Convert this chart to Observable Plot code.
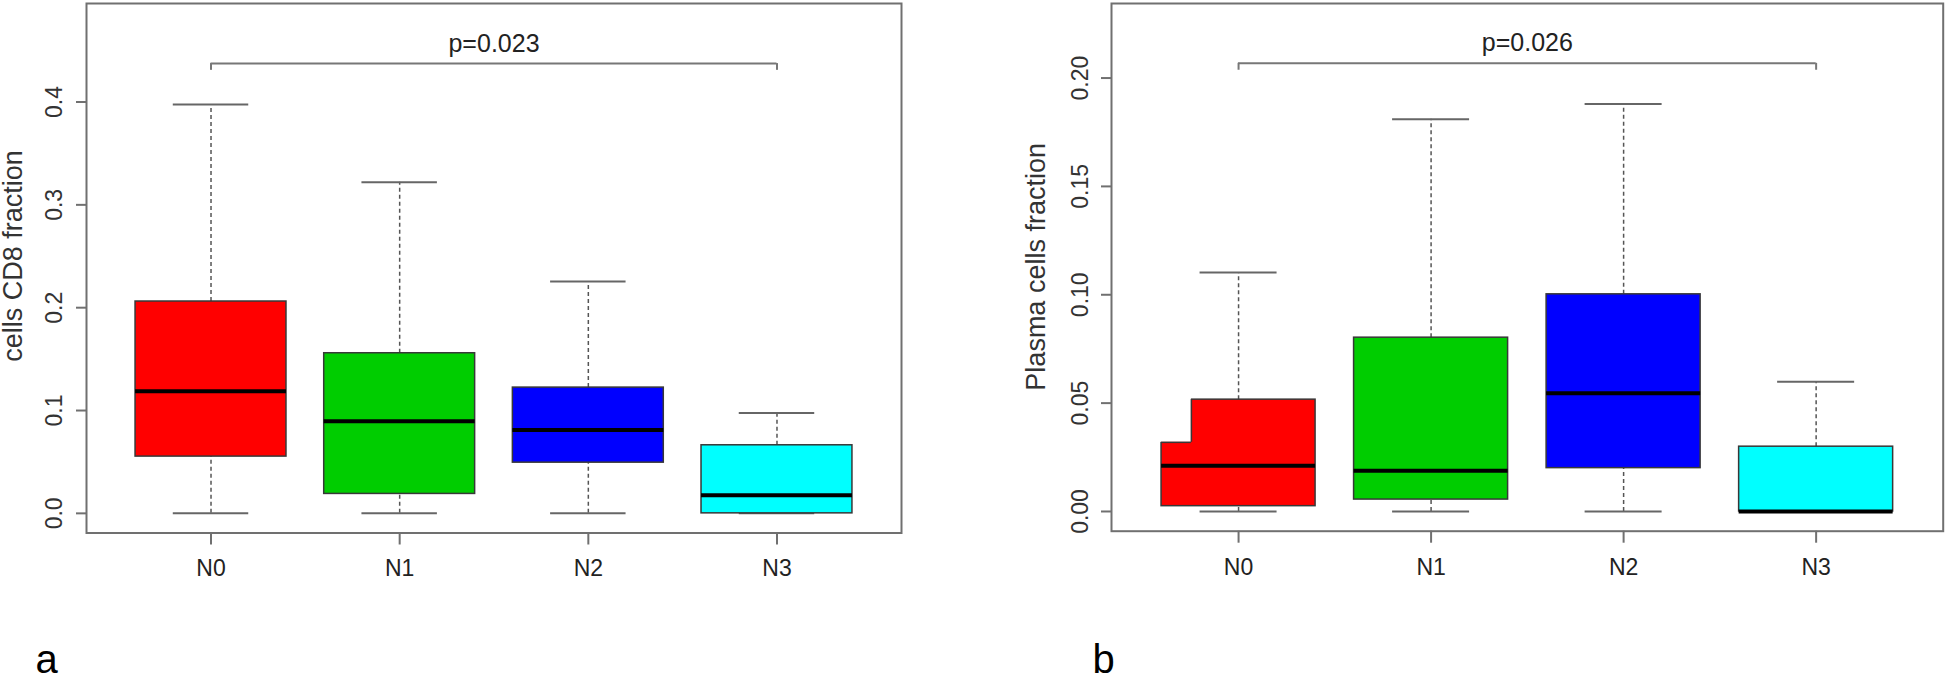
<!DOCTYPE html>
<html><head><meta charset="utf-8">
<script src="https://cdn.jsdelivr.net/npm/d3@7"></script>
<script src="https://cdn.jsdelivr.net/npm/@observablehq/plot@0.6"></script>
<style>
html,body{margin:0;padding:0;background:#fff;width:1946px;height:682px;overflow:hidden}
#wrap{position:relative;width:1946px;height:682px}
#pa{position:absolute;left:0;top:0}
#pb{position:absolute;left:1000px;top:0}
</style></head><body><div id="wrap"><div id="pa"></div><div id="pb"></div></div>
<script>
// ---- shared ----
const categories = ["N0", "N1", "N2", "N3"];
const colors = ["#ff0000", "#00cd00", "#0000ff", "#00ffff"];

// ---- panel a: T cells CD8 fraction ----
const aMin    = [0, 0, 0, 0];
const aQ1     = [0.0552, 0.0189, 0.0493, 0];
const aMedian = [0.1187, 0.0895, 0.0811, 0.0175];
const aQ3     = [0.2060, 0.1557, 0.1223, 0.0662];
const aMax    = [0.3975, 0.3221, 0.2255, 0.0977];
const aTicks  = [0, 0.1, 0.2, 0.3, 0.4];
const aDomain = [-0.0191, 0.4958];
const aTitle  = "cells CD8 fraction";
const aP      = {label: "p=0.023", from: "N0", to: "N3", y: 0.4374, tickEnd: 0.4308};

// ---- panel b: Plasma cells fraction ----
const bMin    = [0, 0, 0, 0];
const bQ1     = [0.00245, 0.0055, 0.0200, 0];
const bMedian = [0.0211, 0.0188, 0.0545, 0];
const bQ3     = [0.0516, 0.0802, 0.1002, 0.0299];
const bMax    = [0.1103, 0.1810, 0.1880, 0.0599];
const bTicks  = [0, 0.05, 0.10, 0.15, 0.20];
const bDomain = [-0.0091, 0.2344];
const bTitle  = "Plasma cells fraction";
const bP      = {label: "p=0.026", from: "N0", to: "N3", y: 0.2068, tickEnd: 0.2036};
// missing top-left corner of the N0 box in panel b (x in group units, y in data units)
const bNotch  = [{x1: 0.6, x2: 0.755, y1: 0.0319, y2: 0.0516}];

const FONT = "'Liberation Sans', Arial, Helvetica, sans-serif";
const xi = c => categories.indexOf(c) + 1;

function panel(cfg) {
  const data = categories.map((c, k) => ({
    c, i: k + 1, min: cfg.min[k], q1: cfg.q1[k], med: cfg.median[k],
    q3: cfg.q3[k], max: cfg.max[k], color: colors[k]
  }));
  const p = cfg.p;
  const marks = [
    Plot.axisX({ticks: data.map(d => d.i), tickSize: 12, tickFormat: () => "", stroke: "#707070", strokeWidth: 2, label: null}),
    Plot.axisY({ticks: cfg.ticks, tickSize: 10, tickFormat: () => "", stroke: "#707070", strokeWidth: 2, label: null}),
    Plot.text(cfg.ticks, {y: d => d, text: d => d.toFixed(cfg.digits), frameAnchor: "left", dx: cfg.tickDx,
      rotate: -90, textAnchor: "middle", lineAnchor: "middle", fontSize: 23, fill: "#333"}),
    Plot.text(data, {x: "i", text: "c", frameAnchor: "bottom", dy: 36, textAnchor: "middle", lineAnchor: "middle",
      fontSize: 23, fill: "#222"}),
    Plot.text([cfg.title], {text: d => d, frameAnchor: "left", dx: cfg.titleDx, dy: cfg.titleDy,
      rotate: -90, textAnchor: "middle", lineAnchor: "middle", fontSize: 27, fill: "#333"}),
    Plot.text([cfg.letter], {text: d => d, frameAnchor: "bottom-left", textAnchor: "start", lineAnchor: "bottom",
      dx: cfg.letterDx, dy: cfg.letterDy, fontSize: 40, fill: "#000"}),
    // whiskers
    Plot.ruleX(data, {x: "i", y1: "q3", y2: "max", stroke: "#555", strokeWidth: 1.5, strokeDasharray: "4,3"}),
    Plot.ruleX(data, {x: "i", y1: "min", y2: "q1", stroke: "#555", strokeWidth: 1.5, strokeDasharray: "4,3"}),
    Plot.ruleY(data, {y: "max", x1: d => d.i - 0.2, x2: d => d.i + 0.2, stroke: "#666", strokeWidth: 2}),
    Plot.ruleY(data, {y: "min", x1: d => d.i - 0.2, x2: d => d.i + 0.2, stroke: "#666", strokeWidth: 2}),
    // boxes
    Plot.rect(data, {x1: d => d.i - 0.4, x2: d => d.i + 0.4, y1: "q1", y2: "q3", fill: "color",
      stroke: "#383838", strokeWidth: 1.5})
  ];
  if (cfg.notch) {
    marks.push(
      Plot.rect(cfg.notch, {x1: "x1", x2: "x2", y1: "y1", y2: "y2", fill: "#fff", insetLeft: -2, insetTop: -2}),
      Plot.ruleY(cfg.notch, {y: "y1", x1: "x1", x2: "x2", stroke: "#383838", strokeWidth: 1.5}),
      Plot.ruleX(cfg.notch, {x: "x2", y1: "y1", y2: "y2", stroke: "#383838", strokeWidth: 1.5})
    );
  }
  marks.push(
    Plot.ruleY(data, {y: "med", x1: d => d.i - 0.4, x2: d => d.i + 0.4, stroke: "#000", strokeWidth: 4}),
    // significance bracket
    Plot.ruleY([p], {y: "y", x1: d => xi(d.from), x2: d => xi(d.to), stroke: "#777", strokeWidth: 2}),
    Plot.ruleX([p.from, p.to], {x: d => xi(d), y1: p.y, y2: p.tickEnd, stroke: "#777", strokeWidth: 2}),
    Plot.text([p], {x: d => (xi(d.from) + xi(d.to)) / 2, y: "y", text: "label", textAnchor: "middle",
      lineAnchor: "bottom", dy: -12, fontSize: 25, fill: "#222"}),
    Plot.frame({stroke: "#707070", strokeWidth: 2})
  );
  return Plot.plot({
    width: cfg.width, height: 682,
    marginTop: 3, marginBottom: cfg.marginBottom, marginLeft: cfg.marginLeft, marginRight: cfg.marginRight,
    x: {domain: [0.34, 4.66]},
    y: {domain: cfg.domain},
    color: {type: "identity"},
    style: {fontFamily: FONT, background: "#fff", color: "#222", overflow: "visible"},
    marks
  });
}

document.getElementById("pa").append(panel({
  min: aMin, q1: aQ1, median: aMedian, q3: aQ3, max: aMax, ticks: aTicks, domain: aDomain, digits: 1,
  title: aTitle, p: aP, letter: "a",
  width: 960, marginLeft: 86, marginRight: 59, marginBottom: 149.5,
  tickDx: -32, titleDx: -73.6, titleDy: -12.2, letterDx: -51, letterDy: 139.5
}));
document.getElementById("pb").append(panel({
  min: bMin, q1: bQ1, median: bMedian, q3: bQ3, max: bMax, ticks: bTicks, domain: bDomain, digits: 2,
  title: bTitle, p: bP, letter: "b", notch: bNotch,
  width: 946, marginLeft: 111, marginRight: 3.3, marginBottom: 151.3,
  tickDx: -31, titleDx: -75.6, titleDy: -0.5, letterDx: -19, letterDy: 141.3
}));
</script></body></html>
